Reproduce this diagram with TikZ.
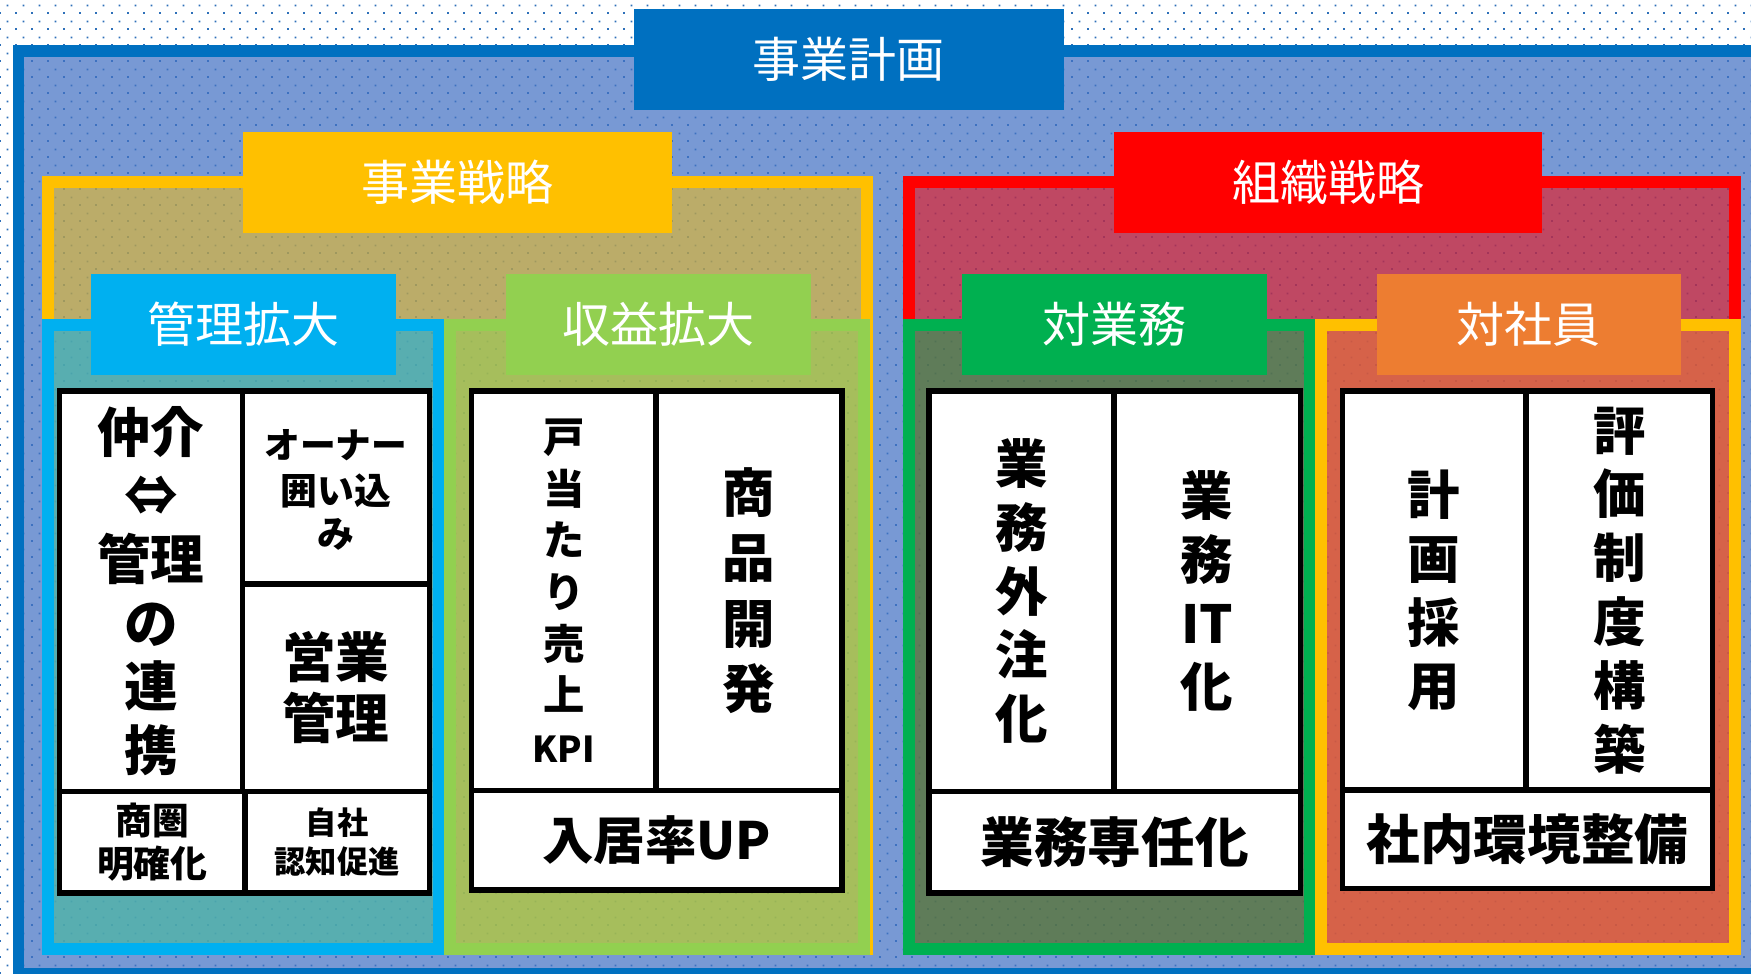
\documentclass[tikz,border=0pt]{standalone}
\usepackage{fontspec}
\setmainfont{Noto Sans CJK JP}
\usetikzlibrary{patterns,fit}
\definecolor{dotblue}{RGB}{46,112,185}
\definecolor{frameblue}{RGB}{0,112,192}
\definecolor{fillblue}{RGB}{68,114,196}
\definecolor{pgold}{RGB}{255,192,0}
\definecolor{pskyblue}{RGB}{0,176,240}
\definecolor{plightgreen}{RGB}{146,208,80}
\definecolor{pgreen}{RGB}{0,176,80}
\definecolor{porange}{RGB}{237,125,49}
\definecolor{pred}{RGB}{255,0,0}
\pgfdeclarepatternformonly{pdots}{\pgfqpoint{0pt}{0pt}}{\pgfqpoint{7.165pt}{7.165pt}}{\pgfqpoint{7.165pt}{7.165pt}}{%
  \pgfpathrectangle{\pgfqpoint{0pt}{0pt}}{\pgfqpoint{0.9pt}{0.9pt}}%
  \pgfpathrectangle{\pgfqpoint{3.58pt}{3.58pt}}{\pgfqpoint{0.9pt}{0.9pt}}%
  \pgfusepath{fill}}
\tikzset{
  grp/.style={line width=5.35pt, fill opacity=0.5},
  lblbox/.style={inner sep=0pt, outer sep=0pt},
  lbltext/.style={inner sep=0pt, text=white, font=\fontsize{21.5}{25}\selectfont},
  cell/.style={draw=black, fill=white, line width=2.5pt, inner sep=0pt, outer sep=0pt},
  ctext/.style={inner sep=0pt, align=center},
  big/.style={font=\fontsize{23.5}{28.6}\bfseries},
}
\begin{document}
\begin{tikzpicture}[x=0.5pt,y=-0.5pt]
\useasboundingbox (0,0) rectangle (1568,872);
\fill[white] (0,0) rectangle (1568,872);
\fill[pattern=pdots, pattern color=dotblue] (0,0) rectangle (1568,872);
% outer frame
\draw[line width=5.25pt, draw=frameblue, fill=fillblue, fill opacity=0.72] (16.6,45.5) rectangle (1600,872.3);
% strategy groups
\draw[grp, draw=pgold, fill=pgold] (42.7,162.7) rectangle (776.7,849.6);
\draw[grp, draw=pred, fill=pred, fill opacity=0.53] (814,162.7) rectangle (1553.6,849.6);
% sub groups
\draw[grp, draw=pskyblue, fill=pskyblue, fill opacity=0.53] (42.7,291) rectangle (392.7,849.6);
\draw[grp, draw=plightgreen, fill=plightgreen] (403.3,291) rectangle (773.7,849.6);
\draw[grp, draw=pgreen, fill=pgreen] (814,291) rectangle (1172.7,849.6);
\draw[grp, draw=pgold, fill=porange] (1183.3,291) rectangle (1553.6,849.6);
% labels
\node[lblbox, fill=frameblue, fit={(567.5,8.4) (952.5,98.5)}] (plan) {};
\node[lblbox, fill=pgold, fit={(217.6,118.2) (601.8,208.4)}] (biz) {};
\node[lblbox, fill=pred, fit={(997.6,118.2) (1381,208.4)}] (org) {};
\node[lblbox, fill=pskyblue, fit={(81.5,245.4) (354.7,335.5)}] (mgmt) {};
\node[lblbox, fill=plightgreen, fit={(453,245.4) (726,335.5)}] (rev) {};
\node[lblbox, fill=pgreen, fit={(861,245.4) (1134.3,335.5)}] (ops) {};
\node[lblbox, fill=porange, fit={(1232.8,245.4) (1505.3,335.5)}] (emp) {};
\node[lbltext] (plant) at (plan.center) {事業計画};
\node[lbltext] (bizt) at (biz.center) {事業戦略};
\node[lbltext] (orgt) at (org.center) {組織戦略};
\node[lbltext] (mgmtt) at (mgmt.center) {管理拡大};
\node[lbltext] (revt) at (rev.center) {収益拡大};
\node[lbltext] (opst) at (ops.center) {対業務};
\node[lbltext] (empt) at (emp.center) {対社員};
% cells: management expansion
\node[cell, fit={(53.3,350) (217,708.6)}] (c11) {};
\node[cell, fit={(217,350) (384.5,523)}] (c12) {};
\node[cell, fit={(217,523) (384.5,708.6)}] (c13) {};
\node[cell, fit={(53.3,708.6) (219.5,799.7)}] (c14) {};
\node[cell, fit={(219.5,708.6) (384.5,799.7)}] (c15) {};
% cells: revenue expansion
\node[cell, fit={(422.4,350) (587.3,708)}] (c21) {};
\node[cell, fit={(587.3,350) (754,708)}] (c22) {};
\node[cell, fit={(422.4,708) (754,797)}] (c23) {};
% cells: operations
\node[cell, fit={(832,350) (997.3,708.6)}] (c31) {};
\node[cell, fit={(997.3,350) (1164.4,708.6)}] (c32) {};
\node[cell, fit={(832,708.6) (1164.4,799.7)}] (c33) {};
% cells: employees
\node[cell, fit={(1202,350) (1366.5,707.5)}] (c41) {};
\node[cell, fit={(1366.5,350) (1533.6,707.5)}] (c42) {};
\node[cell, fit={(1202,707.5) (1533.6,795.7)}] (c43) {};
% texts
\node[ctext, font=\fontsize{24}{28.5}\bfseries] (t11) at (c11.center) {仲介\\⇔\\管理\\の\\連\\携};
\node[ctext, font=\fontsize{16.5}{19}\bfseries] (t12) at ([yshift=-1pt]c12.center) {{\fontsize{16}{19}\selectfont オーナー}\\[2pt]囲い込\\み};
\node[ctext, font=\fontsize{24}{27.2}\bfseries] (t13) at (c13.center) {営業\\管理};
\node[ctext, font=\fontsize{16.5}{19.6}\bfseries] (t14) at (c14.center) {商圏\\明確化};
\node[ctext, font=\fontsize{14}{17.6}\bfseries] (t15) at (c15.center) {自社\\認知促進};
\node[ctext, font=\fontsize{18.5}{23.1}\bfseries] (t21) at (c21.center) {戸\\当\\た\\り\\売\\上\\{\fontsize{16}{23.1}\selectfont KPI}};
\node[ctext, font=\fontsize{23.5}{29.2}\bfseries] (t22) at (c22.center) {商\\品\\開\\発};
\node[ctext, font=\fontsize{23}{28}\bfseries] (t23) at (c23.center) {入居率UP};
\node[ctext, big] (t31) at (c31.center) {業\\務\\外\\注\\化};
\node[ctext, big] (t32) at (c32.center) {業\\務\\IT\\化};
\node[ctext, font=\fontsize{24}{28}\bfseries] (t33) at (c33.center) {業務専任化};
\node[ctext, big] (t41) at (c41.center) {計\\画\\採\\用};
\node[ctext, big] (t42) at (c42.center) {評\\価\\制\\度\\構\\築};
\node[ctext, font=\fontsize{24}{28}\bfseries] (t43) at (c43.center) {社内環境整備};
\end{tikzpicture}
\end{document}
